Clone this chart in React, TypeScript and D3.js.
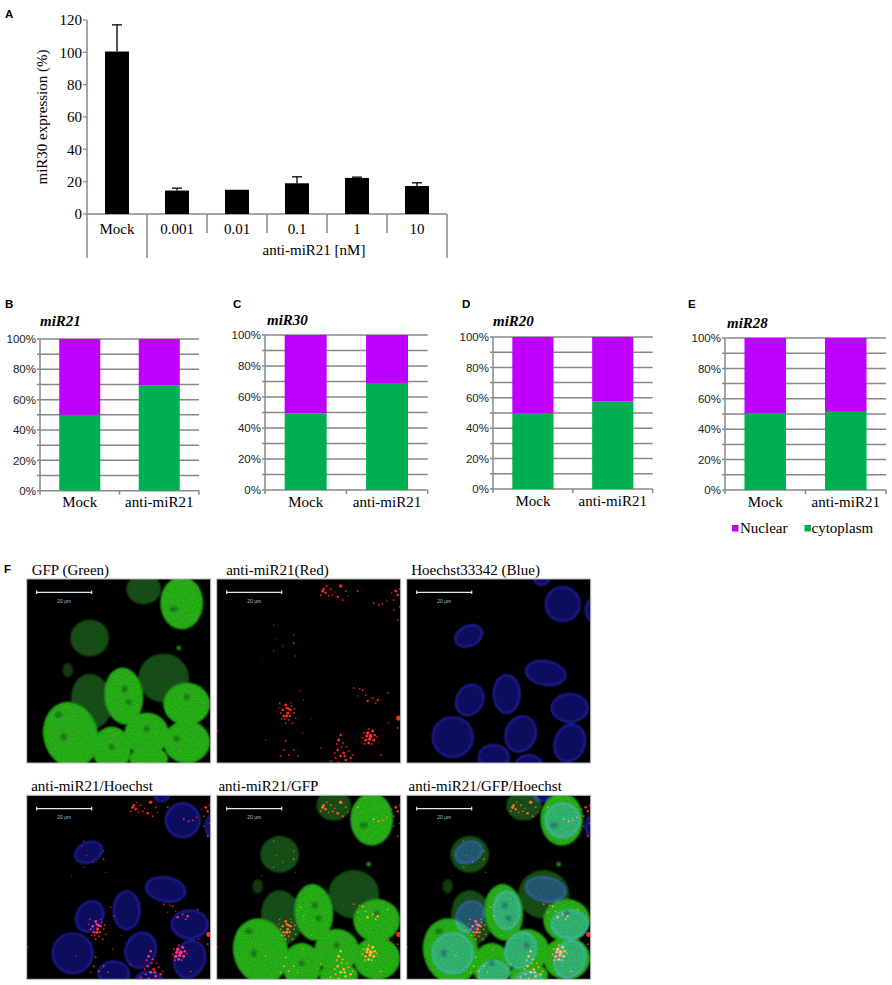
import React from 'react';
import * as d3 from 'd3';

const W = 892;
const H = 985;
const SERIF = '"Liberation Serif", "Times New Roman", serif';
const SANS = '"Liberation Sans", Arial, sans-serif';
const AXIS = '#878787';
const PURPLE = '#bf00ff';
const GREEN = '#00b050';

// ---- panel A: miR30 expression vs anti-miR21 dose
const doseCats = ['Mock', '0.001', '0.01', '0.1', '1', '10'];
const miR30Expr = [100.5, 14.5, 15, 19, 22.3, 17.3];
const miR30Err = [16.5, 1.5, 0, 4, 0.5, 2];
const exprTicks = [0, 20, 40, 60, 80, 100, 120];

// ---- panels B-E: nuclear / cytoplasm fractions
const fracLetters = ['B', 'C', 'D', 'E'];
const fracTitles = ['miR21', 'miR30', 'miR20', 'miR28'];
const fracCats = ['Mock', 'anti-miR21'];
const cytoMock = [50, 49.5, 50, 50.5];
const cytoAnti = [69.5, 69, 57.5, 52];
const pctTicks = [0, 20, 40, 60, 80, 100];
const pctGrid = [0, 10, 20, 30, 40, 50, 60, 70, 80, 90, 100];

// plot frames for B-E (pixels)
const fracFrames = [
  { x0: 40, x1: 199, y0: 339, y1: 490.7, tx: 40, ty: 326, lx: 5 },
  { x0: 265, x1: 427.7, y0: 335, y1: 490, tx: 267, ty: 324.5, lx: 233 },
  { x0: 493, x1: 652.7, y0: 337, y1: 489, tx: 493, ty: 326, lx: 462 },
  { x0: 725, x1: 886, y0: 338, y1: 490, tx: 727, ty: 327.5, lx: 688 },
];

// ---- panel F: confocal images (local image units 0..184)
const imgTitles = [
  ['GFP (Green)', 'anti-miR21(Red)', 'Hoechst33342 (Blue)'],
  ['anti-miR21/Hoechst', 'anti-miR21/GFP', 'anti-miR21/GFP/Hoechst'],
];
const imgChannels = [
  [['g'], ['r'], ['b']],
  [['b', 'r'], ['g', 'r'], ['g', 'b', 'r']],
];
const titleShift = [[5, 9.5, 4.5], [4.5, 1.7, 1.8]];
const imgCols = [26.7, 216.7, 406.7];
const imgRows = [579, 795.3];
const IMG = 184;

// GFP cells: cx, cy, rx, ry, rotation, bright(1)/dim(0)
const greenCells = [
  [117, 10, 17, 15, 0, 0],
  [63, 59, 19, 18, 0, 0],
  [137, 99, 25, 24, 0, 0],
  [65, 122, 20, 27, -10, 0],
  [155, 24, 21, 26, 0, 1],
  [97, 117, 19, 28, -5, 1],
  [44, 156, 27, 33, -15, 1],
  [85, 170, 19, 22, 0, 1],
  [120, 155, 22, 21, 0, 1],
  [160, 125, 23, 21, 0, 1],
  [160, 163, 23, 21, 0, 1],
  [122, 180, 19, 12, 0, 1],
];
const nucleoli = [
  [98, 110, 3, 3.5], [102, 123, 3, 3], [32, 136, 4, 3], [37, 158, 3, 4], [147, 30, 4, 3],
  [160, 118, 3, 3], [150, 160, 3, 3], [120, 150, 3, 3], [85, 168, 3, 3],
];
// Hoechst nuclei: cx, cy, rx, ry, rotation
const blueNuclei = [
  [156, 25, 17, 17, 0], [186, 31, 7, 11, 0], [135, 1, 7, 5, 0], [62, 57, 14, 10, -25],
  [139, 94, 20, 12, 10], [100, 115, 13, 19, 0], [63, 121, 13, 16, 30], [163, 129, 18, 14, 0],
  [46, 158, 20, 20, 0], [114, 155, 15, 18, 20], [163, 164, 15, 19, 20], [87, 178, 15, 12, 0],
  [122, 186, 13, 10, 0],
];
// anti-miR21 puncta: x, y, r
const redPuncta = [
  [106, 12, 1.6], [109, 14, 1.2], [107, 10, 1.2], [124, 7, 1.8], [121, 18, 1.2], [126, 21, 1], [116, 16, 1],
  [129, 12, 1], [141, 12, 1], [114, 10, 1], [112, 17, 0.9], [110, 7, 0.9], [118, 13, 0.8], [104, 16, 1],
  [131, 17, 0.8],
  [179, 12, 1.4], [181, 16, 1.2], [177, 21, 1], [157, 24, 1], [162, 26, 1], [166, 25, 0.9], [181, 41, 1],
  [177, 31, 0.9], [170, 22, 0.8], [183, 10, 1], [175, 14, 0.8], [183, 28, 0.9],
  [57, 46, 0.8], [77, 56, 0.8], [77, 64, 1], [57, 72, 0.7], [66, 67, 0.7], [79, 77, 0.7], [87, 121, 0.8],
  [84, 112, 0.8], [60, 60, 0.6], [45, 80, 0.6],
  [69, 126, 1.4], [66, 131, 1.3], [71, 134, 1.5], [74, 131, 1.2], [67, 137, 1.3], [72, 141, 1.1], [77, 134, 1],
  [69, 144, 1], [76, 144, 1], [64, 134, 1], [73, 137, 1.2], [79, 139, 0.9], [70, 129, 1.2], [68, 140, 1.1],
  [63, 124, 0.9], [75, 127, 0.9], [78, 130, 1], [65, 140, 0.9], [72, 130, 1.4], [70, 137, 1.6], [74, 124, 0.8],
  [62, 129, 0.8],
  [137, 109, 1], [146, 111, 1.1], [151, 122, 1.2], [156, 119, 1.1], [161, 121, 1.2], [159, 124, 1],
  [149, 116, 0.9], [171, 114, 0.9], [141, 117, 0.8], [143, 110, 0.9],
  [182, 139, 2.6], [181, 149, 1], [172, 144, 0.8],
  [151, 154, 1.8], [154, 157, 2], [156, 152, 1.5], [149, 161, 1.6], [152, 164, 1.4], [157, 161, 1.5],
  [146, 159, 1.1], [153, 160, 1.8], [150, 157, 1.5], [147, 154, 1], [158, 156, 1.2], [155, 165, 1],
  [160, 158, 0.9], [148, 165, 1], [152, 150, 1],
  [124, 156, 1.3], [122, 161, 1.4], [126, 164, 1.1], [121, 171, 1.2], [127, 174, 1.3], [132, 172, 1.1],
  [124, 177, 1.4], [134, 179, 1.2], [129, 181, 1.3], [119, 179, 1.1], [114, 182, 1.1], [125, 168, 1],
  [120, 165, 1], [130, 168, 0.9], [118, 174, 1], [128, 177, 1.2], [136, 176, 0.9], [122, 183, 1],
  [69, 162, 1], [67, 171, 1.1], [77, 171, 1], [72, 176, 1.1], [81, 177, 0.9], [64, 177, 0.9],
  [1, 152, 0.8], [49, 161, 0.7], [86, 154, 0.7], [104, 169, 0.8], [164, 176, 0.9], [95, 140, 0.6],
];

const Letter = ({ x, y, t }: { x: number; y: number; t: string }) => (
  <text x={x} y={y} fontFamily={SANS} fontWeight="bold" fontSize={11.5} fill="#000">{t}</text>
);

function PanelA() {
  const x = d3.scaleBand().domain(doseCats).range([87, 447]).paddingInner(0.6).paddingOuter(0.3);
  const y = d3.scaleLinear().domain([0, 120]).range([214, 20]);
  const [xa, xb] = x.range();
  const bounds = d3.range(doseCats.length + 1).map(i => xa + i * x.step());
  const groupMid = (bounds[1] + bounds[bounds.length - 1]) / 2 + 17;
  return (
    <g>
      <Letter x={5} y={18} t="A" />
      {/* axes */}
      <line x1={xa} x2={xa} y1={y(120)} y2={y(0)} stroke={AXIS} strokeWidth={1.5} />
      <line x1={xa} x2={xb} y1={y(0)} y2={y(0)} stroke={AXIS} strokeWidth={1.5} />
      {exprTicks.map(t => (
        <g key={t}>
          <line x1={xa - 4} x2={xa} y1={y(t)} y2={y(t)} stroke={AXIS} strokeWidth={1.2} />
          <text x={82} y={y(t)} dy="0.35em" textAnchor="end" fontFamily={SERIF} fontSize={15}>{t}</text>
        </g>
      ))}
      {bounds.map((b, i) => {
        const long = i === 0 || i === 1 || i === bounds.length - 1;
        return <line key={i} x1={b} x2={b} y1={y(0)} y2={long ? 258 : 233} stroke={AXIS} strokeWidth={1.5} />;
      })}
      {/* bars + error bars */}
      {doseCats.map((c, i) => {
        const cx = (x(c) || 0) + x.bandwidth() / 2;
        return (
          <g key={c}>
            <rect x={x(c)} width={x.bandwidth()} y={y(miR30Expr[i])} height={y(0) - y(miR30Expr[i])} fill="#000" />
            {miR30Err[i] > 0 && (
              <g stroke="#000" strokeWidth={1.3}>
                <line x1={cx} x2={cx} y1={y(miR30Expr[i])} y2={y(miR30Expr[i] + miR30Err[i])} />
                <line x1={cx - 5} x2={cx + 5} y1={y(miR30Expr[i] + miR30Err[i])} y2={y(miR30Expr[i] + miR30Err[i])} />
              </g>
            )}
            <text x={cx} y={234} textAnchor="middle" fontFamily={SERIF} fontSize={15}>{c}</text>
          </g>
        );
      })}
      <text x={groupMid} y={255} textAnchor="middle" fontFamily={SERIF} fontSize={15}>anti-miR21 [nM]</text>
      <text transform={`translate(47,${(y(0) + y(120)) / 2}) rotate(-90)`} textAnchor="middle" fontFamily={SERIF} fontSize={15}>
        miR30 expression (%)
      </text>
    </g>
  );
}

function FractionPanel({ i }: { i: number }) {
  const f = fracFrames[i];
  const x = d3.scaleBand().domain(fracCats).range([f.x0, f.x1]).paddingInner(0.484).paddingOuter(0.242);
  const y = d3.scaleLinear().domain([0, 100]).range([f.y1, f.y0]);
  const cyto = [cytoMock[i], cytoAnti[i]];
  const bounds = d3.range(fracCats.length + 1).map(k => f.x0 + k * x.step());
  return (
    <g>
      <Letter x={f.lx} y={308} t={fracLetters[i]} />
      <text x={f.tx} y={f.ty} fontFamily={SERIF} fontSize={15} fontWeight="bold" fontStyle="italic">{fracTitles[i]}</text>
      {pctGrid.map(v => (
        <line key={v} x1={f.x0 - 3} x2={f.x1} y1={y(v)} y2={y(v)} stroke={AXIS} strokeWidth={1.5} />
      ))}
      <line x1={f.x0} x2={f.x0} y1={y(0)} y2={y(100)} stroke={AXIS} strokeWidth={1.5} />
      {bounds.map((b, k) => (
        <line key={k} x1={b} x2={b} y1={y(0)} y2={y(0) + 4} stroke={AXIS} strokeWidth={1.5} />
      ))}
      {pctTicks.map(v => (
        <text key={v} x={f.x0 - 4} y={y(v)} dy="0.36em" textAnchor="end" fontFamily={SANS} fontSize={11.5} fill="#222">{v}%</text>
      ))}
      {fracCats.map((c, k) => (
        <g key={c}>
          <rect x={x(c)} width={x.bandwidth()} y={y(cyto[k])} height={y(0) - y(cyto[k])} fill={GREEN} />
          <rect x={x(c)} width={x.bandwidth()} y={y(100)} height={y(cyto[k]) - y(100)} fill={PURPLE} />
          <text x={(x(c) || 0) + x.bandwidth() / 2} y={f.y1 + 16.5} textAnchor="middle" fontFamily={SERIF} fontSize={15}>{c}</text>
        </g>
      ))}
    </g>
  );
}

function Legend() {
  return (
    <g fontFamily={SERIF} fontSize={15}>
      <rect x={732} y={525} width={6.5} height={6.5} fill={PURPLE} />
      <text x={740} y={532.5}>Nuclear</text>
      <rect x={804.5} y={525} width={6.5} height={6.5} fill={GREEN} />
      <text x={811.5} y={532.5}>cytoplasm</text>
    </g>
  );
}

const s = d3.scaleLinear().domain([0, IMG]).range([0, IMG]);

function GreenLayer() {
  return (
    <g filter="url(#grain)" style={{ mixBlendMode: 'screen' }}>
      {greenCells.map((c, k) => (
        <ellipse key={k} cx={s(c[0])} cy={s(c[1])} rx={s(c[2])} ry={s(c[3])}
          transform={`rotate(${c[4]},${s(c[0])},${s(c[1])})`}
          fill={c[5] ? '#25ab19' : '#184e13'} />
      ))}
      {nucleoli.map((n, k) => (
        <ellipse key={'n' + k} cx={s(n[0])} cy={s(n[1])} rx={s(n[2])} ry={s(n[3])} fill="#1a7813" />
      ))}
      <ellipse cx={s(41)} cy={s(91)} rx={s(5)} ry={s(7)} fill="#12380e" />
      <circle cx={s(152)} cy={s(69)} r={s(2)} fill="#2a9a20" />
    </g>
  );
}

function BlueLayer() {
  return (
    <g filter="url(#grain)" style={{ mixBlendMode: 'screen' }}>
      {blueNuclei.map((c, k) => (
        <ellipse key={k} cx={s(c[0])} cy={s(c[1])} rx={s(c[2])} ry={s(c[3])}
          transform={`rotate(${c[4]},${s(c[0])},${s(c[1])})`}
          fill="#10105e" stroke="#2a2abe" strokeWidth={1.1} />
      ))}
    </g>
  );
}

function RedLayer() {
  return (
    <g filter="url(#soft)" style={{ mixBlendMode: 'screen' }}>
      {redPuncta.map((p, k) => (
        <circle key={k} cx={s(p[0])} cy={s(p[1])} r={s(p[2])} fill={p[2] >= 1.2 ? '#ff2a1a' : '#d81a10'} />
      ))}
    </g>
  );
}

function Micrograph({ row, col }: { row: number; col: number }) {
  const ch = imgChannels[row][col];
  return (
    <g transform={`translate(${imgCols[col]},${imgRows[row]})`}>
      <text x={titleShift[row][col]} y={-4.5} fontFamily={SERIF} fontSize={15}>{imgTitles[row][col]}</text>
      <g clipPath="url(#imgClip)" style={{ isolation: 'isolate' }}>
        <rect width={IMG} height={IMG} fill="#000" />
        {ch.includes('g') && <GreenLayer />}
        {ch.includes('b') && <BlueLayer />}
        {ch.includes('r') && <RedLayer />}
      </g>
      {/* scale bar */}
      <g stroke="#e8e8e8" strokeWidth={1.2}>
        <line x1={s(10)} x2={s(65)} y1={s(13.3)} y2={s(13.3)} />
        <line x1={s(10)} x2={s(10)} y1={s(11.5)} y2={s(15.1)} />
        <line x1={s(65)} x2={s(65)} y1={s(11.5)} y2={s(15.1)} />
      </g>
      <text x={s(37.5)} y={s(23.5)} textAnchor="middle" fontFamily={SANS} fontSize={5} fill="#bbb">20 μm</text>
      <rect width={IMG} height={IMG} fill="none" stroke="#b8b8b8" strokeWidth={1} />
    </g>
  );
}

export default function App() {
  return (
    <svg width={W} height={H} viewBox={`0 0 ${W} ${H}`}
      style={{ position: 'absolute', left: 0, top: 0, background: '#fff', display: 'block' }}>
      <defs>
        <clipPath id="imgClip"><rect width={IMG} height={IMG} /></clipPath>
        <filter id="grain" x="0" y="0" width={IMG} height={IMG} filterUnits="userSpaceOnUse">
          <feGaussianBlur in="SourceGraphic" stdDeviation="1.2" result="b" />
          <feTurbulence type="fractalNoise" baseFrequency="0.75" numOctaves="2" seed="4" result="n" />
          <feColorMatrix in="n" type="matrix"
            values="0.33 0.33 0.33 0 0  0.33 0.33 0.33 0 0  0.33 0.33 0.33 0 0  0 0 0 0 1" result="g" />
          <feComposite in="b" in2="g" operator="arithmetic" k1="1.3" k2="0.35" k3="0" k4="0" />
        </filter>
        <filter id="soft" x="0" y="0" width={IMG} height={IMG} filterUnits="userSpaceOnUse">
          <feGaussianBlur in="SourceGraphic" stdDeviation="0.4" />
        </filter>
      </defs>
      <rect width={W} height={H} fill="#fff" />
      <PanelA />
      {fracFrames.map((_, i) => <FractionPanel key={i} i={i} />)}
      <Legend />
      <Letter x={4} y={573} t="F" />
      {imgRows.map((_, r) => imgCols.map((_, c) => <Micrograph key={`${r}-${c}`} row={r} col={c} />))}
    </svg>
  );
}
